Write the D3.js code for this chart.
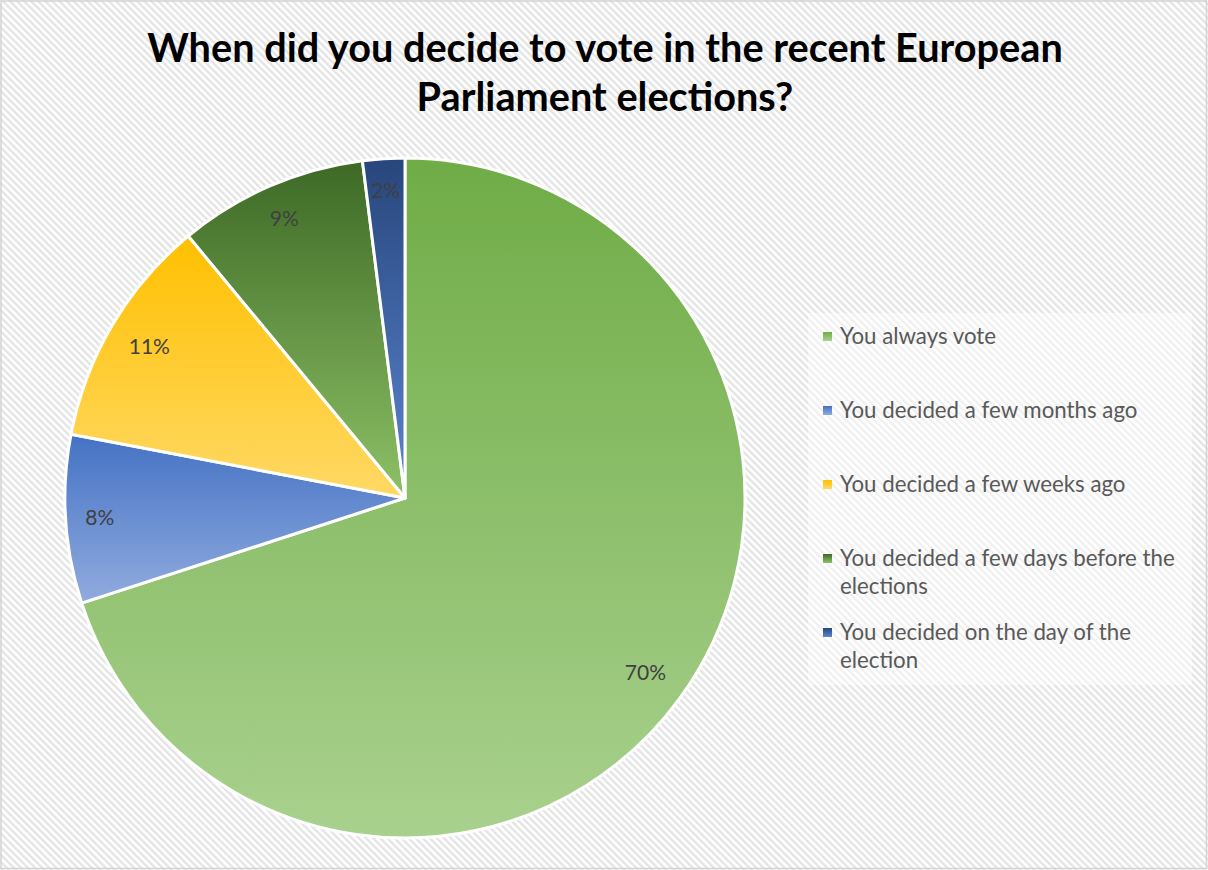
<!DOCTYPE html>
<html>
<head>
<meta charset="utf-8">
<script src="https://cdn.jsdelivr.net/npm/d3@7"></script>
<style>
  html, body { margin: 0; padding: 0; background: #fff; }
  svg { display: block; }
</style>
</head>
<body>
<svg id="chart" width="1208" height="870"></svg>
<script>
// Survey answers and their shares (percent)
const titleLines = ["When did you decide to vote in the recent European", "Parliament elections?"];
const categories = [
  "You always vote",
  "You decided a few months ago",
  "You decided a few weeks ago",
  "You decided a few days before the elections",
  "You decided on the day of the election"
];
const values = [70, 8, 11, 9, 2];
// Each slice is shaded with a vertical gradient, darker on top
const colorsTop = ["#6fac46", "#4472c4", "#ffc000", "#3d6925", "#27467c"];
const colorsBottom = ["#a9d18e", "#91abde", "#ffd966", "#8dc166", "#5c85d0"];

const W = 1208, H = 870;
const svg = d3.select("#chart");
const defs = svg.append("defs");
const FONT = "Lato, 'Open Sans', 'DejaVu Sans', sans-serif";

// Diagonal hatch backdrop
const hatch = defs.append("pattern")
  .attr("id", "hatch")
  .attr("patternUnits", "userSpaceOnUse")
  .attr("width", 5).attr("height", 5)
  .attr("patternTransform", "rotate(-45)");
hatch.append("rect").attr("width", 5).attr("height", 5).attr("fill", "#ffffff");
hatch.append("rect").attr("width", 2.4).attr("height", 5).attr("fill", "#e4e4e4");

svg.append("rect").attr("x", 0).attr("y", 0).attr("width", W).attr("height", H).attr("fill", "url(#hatch)");
svg.append("rect").attr("x", 1).attr("y", 1).attr("width", W - 2.5).attr("height", H - 2.5)
  .attr("fill", "none").attr("stroke", "#d4d4d4").attr("stroke-width", 1.5);

// Gradients per category
categories.forEach((c, i) => {
  const g = defs.append("linearGradient")
    .attr("id", "grad" + i)
    .attr("x1", 0).attr("y1", 0).attr("x2", 0).attr("y2", 1);
  g.append("stop").attr("offset", "0%").attr("stop-color", colorsTop[i]);
  g.append("stop").attr("offset", "100%").attr("stop-color", colorsBottom[i]);
});

// Helper: find a font size so that a string spans the given width
function fitSize(text, weight, targetWidth) {
  const t = svg.append("text").attr("font-family", FONT).attr("font-weight", weight)
    .attr("font-size", 100).text(text);
  const w = t.node().getComputedTextLength();
  t.remove();
  return 100 * targetWidth / w;
}

// Title
const titleSize = fitSize(titleLines[0], 700, 916);
svg.append("g").selectAll("text").data(titleLines).join("text")
  .attr("x", 605)
  .attr("y", (d, i) => 62 + i * 49)
  .attr("text-anchor", "middle")
  .attr("font-family", FONT).attr("font-weight", 700)
  .attr("font-size", titleSize)
  .attr("fill", "#000")
  .text(d => d);

// Pie
const cx = 405, cy = 498, R = 340;
const pie = d3.pie().sort(null).value(d => d);
const arcs = pie(values);
const arc = d3.arc().innerRadius(0).outerRadius(R);

const gPie = svg.append("g").attr("transform", `translate(${cx},${cy})`);
gPie.selectAll("path").data(arcs).join("path")
  .attr("d", arc)
  .attr("fill", (d, i) => `url(#grad${i})`)
  .attr("stroke", "#ffffff")
  .attr("stroke-width", 3)
  .attr("stroke-linejoin", "round");

// Value labels sit just inside the rim: the label box's outer corner
// is kept a fixed distance from the centre along the slice's mid angle
const labelSize = 21;
const cornerR = 321;
const labels = gPie.selectAll("text.lbl").data(arcs).join("text")
  .attr("class", "lbl")
  .attr("text-anchor", "middle")
  .attr("dy", "0.35em")
  .attr("font-family", FONT)
  .attr("font-size", labelSize)
  .attr("fill", "#404040")
  .text(d => d.data + "%");
labels.attr("transform", function (d) {
  const a = (d.startAngle + d.endAngle) / 2;
  const sx = Math.sin(a), cy_ = -Math.cos(a);
  const hw = this.getComputedTextLength() / 2;
  const hh = labelSize * 0.58;
  const r = cornerR - (hw * Math.abs(sx) + hh * Math.abs(cy_));
  return `translate(${r * sx},${r * cy_})`;
});

// Legend
const legX = 823, legY0 = 344, legStep = 74, lineH = 28.3, maxW = 345;
const legSize = fitSize("You decided a few days before the", 400, 335);
svg.append("rect").attr("x", 808).attr("y", 313).attr("width", 384).attr("height", 372)
  .attr("fill", "#ffffff").attr("opacity", 0.45);

function wrap(text) {
  const words = text.split(" ");
  const lines = [];
  let cur = "";
  const t = svg.append("text").attr("font-family", FONT).attr("font-size", legSize);
  words.forEach(w => {
    const test = cur ? cur + " " + w : w;
    t.text(test);
    if (t.node().getComputedTextLength() > maxW && cur) {
      lines.push(cur);
      cur = w;
    } else {
      cur = test;
    }
  });
  lines.push(cur);
  t.remove();
  return lines;
}

const gLeg = svg.append("g");
categories.forEach((c, i) => {
  const y = legY0 + i * legStep;
  gLeg.append("rect")
    .attr("x", legX).attr("y", y - 12).attr("width", 9).attr("height", 9)
    .attr("fill", `url(#grad${i})`);
  const t = gLeg.append("text")
    .attr("x", legX + 17).attr("y", y)
    .attr("font-family", FONT).attr("font-size", legSize)
    .attr("fill", "#595959");
  wrap(c).forEach((line, j) => {
    t.append("tspan").attr("x", legX + 17).attr("y", y + j * lineH).text(line);
  });
});
</script>
</body>
</html>
